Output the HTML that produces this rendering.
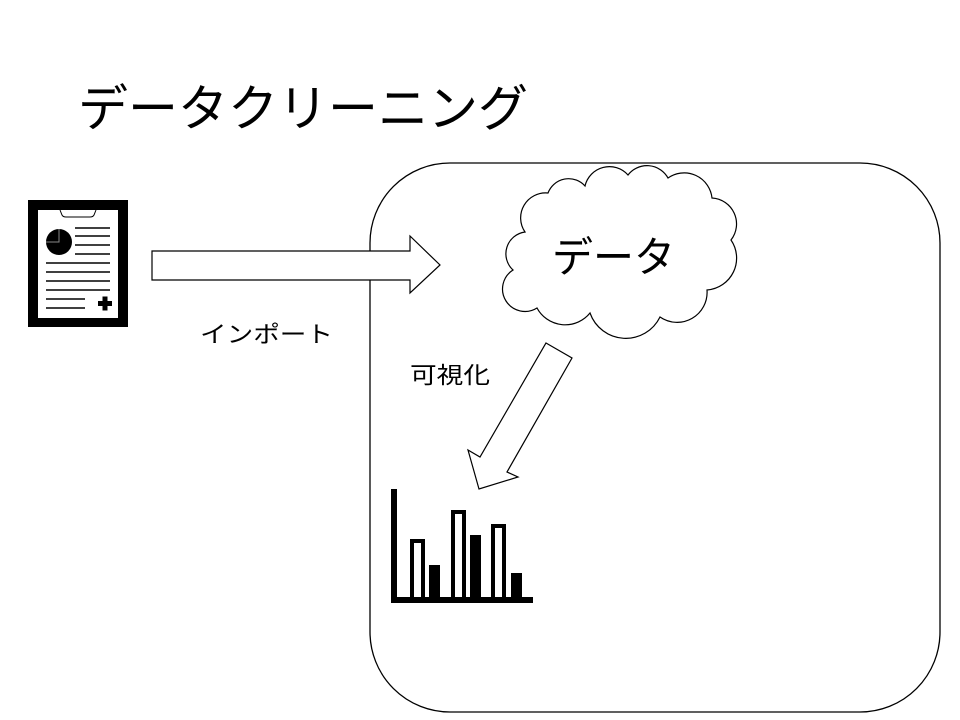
<!DOCTYPE html>
<html><head><meta charset="utf-8"><style>
html,body{margin:0;padding:0;background:#fff;}
svg{display:block;}
text{font-family:"Liberation Sans","Noto Sans CJK JP",sans-serif;fill:#000;}
</style></head><body>
<svg width="960" height="720" viewBox="0 0 960 720" xmlns="http://www.w3.org/2000/svg">
<text x="78" y="126" font-size="50" textLength="450" lengthAdjust="spacingAndGlyphs">データクリーニング</text>
<rect x="370" y="163" width="570" height="549" rx="80" ry="80" fill="none" stroke="#000" stroke-width="1.3"/>
<!-- clipboard -->
<rect x="28" y="200" width="100" height="127" fill="#000"/>
<rect x="38" y="210" width="80" height="108" fill="#fff"/>
<path d="M60,210 L62,215 Q63,217 66,217 L90,217 Q93,217 94,215 L96,210" fill="none" stroke="#000" stroke-width="1"/>
<circle cx="59" cy="242" r="13" fill="#000"/>
<path d="M59,229 L59,242 L46,242" fill="none" stroke="#888" stroke-width="1"/>
<g stroke="#000" stroke-width="1.5">
<line x1="75" y1="228" x2="110" y2="228"/><line x1="75" y1="236" x2="110" y2="236"/>
<line x1="75" y1="245" x2="110" y2="245"/><line x1="75" y1="254" x2="110" y2="254"/>
<line x1="46" y1="263" x2="110" y2="263"/><line x1="46" y1="272" x2="110" y2="272"/>
<line x1="46" y1="281" x2="110" y2="281"/><line x1="46" y1="290" x2="110" y2="290"/>
<line x1="46" y1="299" x2="85" y2="299"/><line x1="46" y1="308" x2="85" y2="308"/>
</g>
<rect x="98" y="301" width="14" height="5" fill="#000"/>
<rect x="102.5" y="296.5" width="5" height="14" fill="#000"/>
<!-- right arrow -->
<path d="M152,251 L410,251 L410,236 L440,265 L410,293 L410,280 L152,280 Z" fill="#fff" stroke="#000" stroke-width="1.2"/>
<text x="200" y="342" font-size="23" textLength="133" lengthAdjust="spacingAndGlyphs">インポート</text>
<!-- cloud -->
<path d="M525,232 A25,25 0 0 1 548,193 A22,22 0 0 1 585,186 A25,25 0 0 1 628,175 A24,24 0 0 1 668,178 A28,28 0 0 1 712,198 A26,26 0 0 1 731,240 A32,32 0 0 1 707,290 A30,30 0 0 1 660,317 A38,38 0 0 1 590,313 A32,32 0 0 1 537,308 A22,22 0 0 1 513,270 A22,22 0 0 1 525,232 Z" fill="#fff" stroke="#000" stroke-width="1.2"/>
<text x="552" y="272" font-size="42" textLength="123" lengthAdjust="spacingAndGlyphs">データ</text>
<text x="410" y="383" font-size="23" textLength="80" lengthAdjust="spacingAndGlyphs">可視化</text>
<!-- diagonal arrow -->
<path d="M546,343 L572,358 L507,472 L518,477 L479,489 L468,450 L480,457 Z" fill="#fff" stroke="#000" stroke-width="1.2"/>
<!-- chart -->
<rect x="391" y="489" width="6" height="114" fill="#000"/>
<rect x="391" y="597" width="142" height="6" fill="#000"/>
<rect x="412" y="541" width="11" height="58" fill="none" stroke="#000" stroke-width="4"/>
<rect x="429" y="565" width="11" height="34" fill="#000"/>
<rect x="453" y="512" width="11" height="87" fill="none" stroke="#000" stroke-width="4"/>
<rect x="470" y="535" width="11" height="64" fill="#000"/>
<rect x="493" y="526" width="11" height="73" fill="none" stroke="#000" stroke-width="4"/>
<rect x="511" y="573" width="11" height="26" fill="#000"/>
</svg>
</body></html>
